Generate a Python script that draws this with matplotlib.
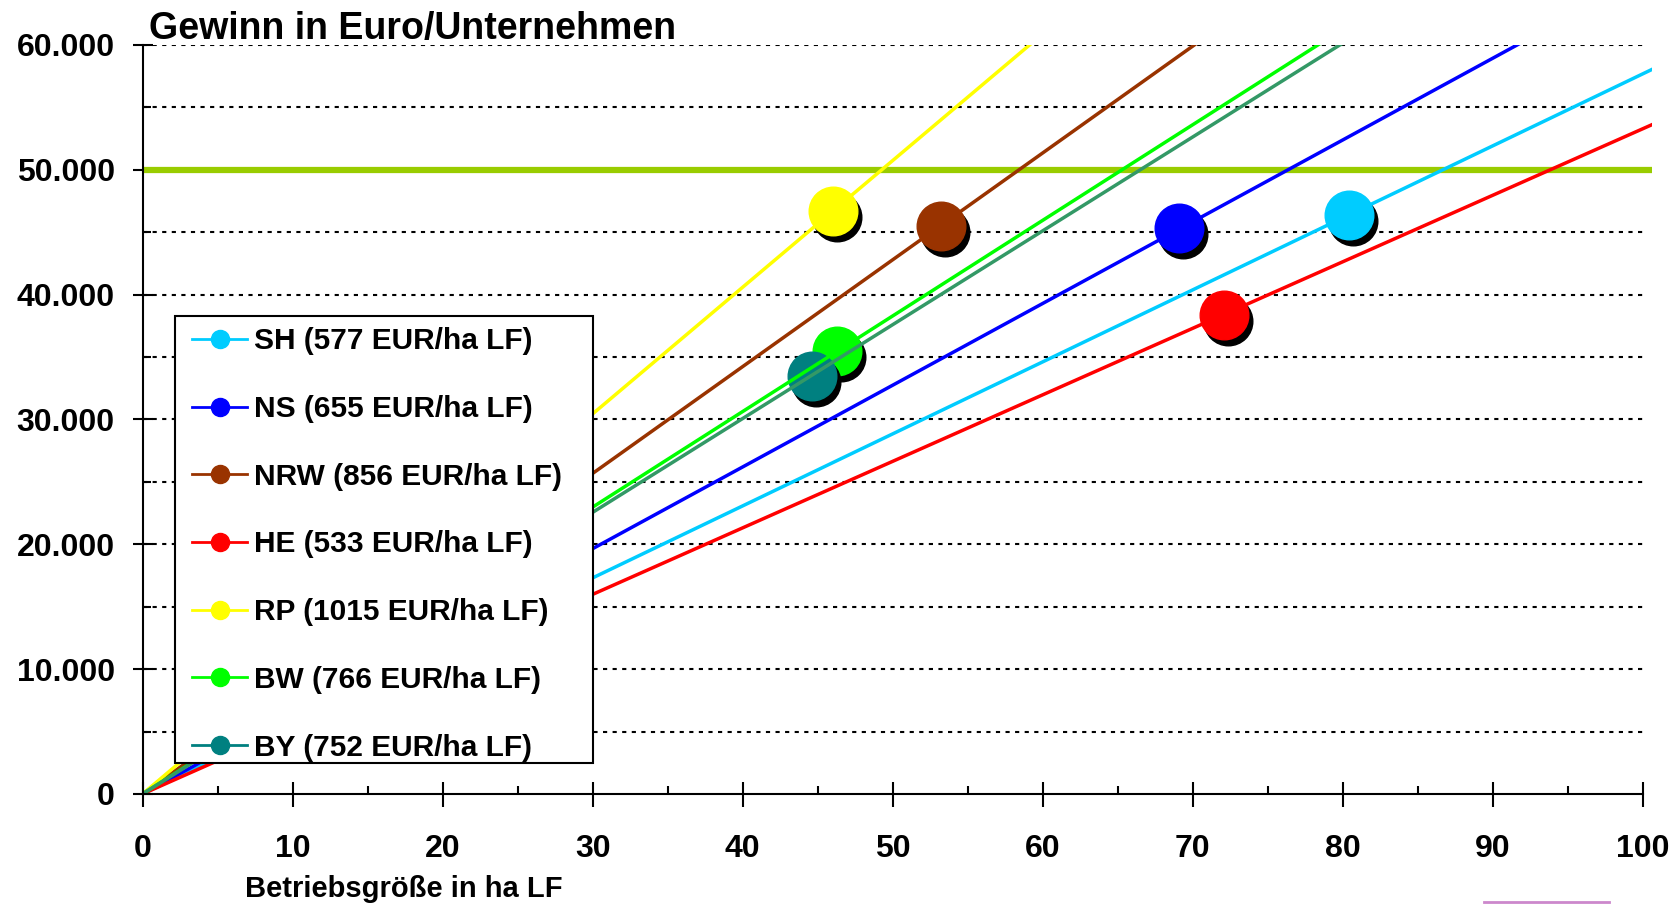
import numpy as np
import matplotlib
matplotlib.use("Agg")
import matplotlib.pyplot as plt
import matplotlib.transforms as mtransforms
from matplotlib.lines import Line2D
from matplotlib.patches import Rectangle
from matplotlib.ticker import FuncFormatter, MultipleLocator

# ----------------------------
# Daten
# ----------------------------
laender = ["SH", "NS", "NRW", "HE", "RP", "BW", "BY"]
eur_je_ha = [577, 655, 856, 533, 1015, 766, 752]          # Gewinn je ha LF (Steigung)
punkt_ha = [80.4, 69.1, 53.2, 72.1, 46.0, 46.3, 44.6]      # Betriebsgröße im Durchschnitt
punkt_gewinn = [46400, 45300, 45500, 38400, 46700, 35500, 33500]
linien_farben = ["#00CCFF", "#0000FF", "#993300", "#FF0000", "#FFFF00", "#00FF00", "#339966"]
punkt_farben = ["#00CCFF", "#0000FF", "#993300", "#FF0000", "#FFFF00", "#00FF00", "#008080"]
ziel_gewinn = 50000
x_bereich = np.array([0, 101])

plt.rcParams["font.family"] = ["Liberation Sans", "DejaVu Sans"]
plt.rcParams["font.weight"] = "bold"

fig = plt.figure(figsize=(16.73, 9.05), dpi=100)
ax = fig.add_axes([0.0852, 0.1227, 0.9023, 0.8276])
ax.set_xlim(0, 100.6)
ax.set_ylim(0, 60000)

# Gitterlinien (gepunktet)
ax.hlines(np.arange(5000, 60001, 5000), 0, 100, colors="black",
          linestyles=(0, (2.0, 2.6)), linewidth=1.5, zorder=1)

# Zielgewinn 50.000 Euro
ax.axhline(ziel_gewinn, color="#99CC00", linewidth=4.5, zorder=2)

# Punkte mit Schatten
schatten = mtransforms.offset_copy(ax.transData, fig=fig, x=4, y=-6, units="dots")
for i in range(len(laender)):
    ax.plot(punkt_ha[i], punkt_gewinn[i], "o", ms=35, color="black",
            mec="black", transform=schatten, zorder=3)
    ax.plot(punkt_ha[i], punkt_gewinn[i], "o", ms=35, color=punkt_farben[i],
            mec=punkt_farben[i], zorder=3)

# Geraden durch den Ursprung
for i in range(len(laender)):
    ax.plot(x_bereich, x_bereich * eur_je_ha[i], color=linien_farben[i],
            linewidth=2.5, zorder=4, solid_capstyle="butt")

# Achsen
for s in ["top", "right"]:
    ax.spines[s].set_visible(False)
ax.spines["bottom"].set_bounds(0, 100)
for s in ["left", "bottom"]:
    ax.spines[s].set_linewidth(1.5)
    ax.spines[s].set_zorder(5)

ax.xaxis.set_major_locator(MultipleLocator(10))
ax.xaxis.set_minor_locator(MultipleLocator(5))
ax.yaxis.set_major_locator(MultipleLocator(10000))
ax.yaxis.set_minor_locator(MultipleLocator(5000))
ax.yaxis.set_major_formatter(FuncFormatter(lambda v, p: f"{int(v):,}".replace(",", ".")))

ax.tick_params(axis="x", which="major", direction="inout", length=18, width=1.5,
               pad=20, labelsize=23)
ax.tick_params(axis="x", which="minor", direction="in", length=6, width=1.5)
ax.tick_params(axis="y", which="major", direction="inout", length=14, width=1.5,
               pad=13, labelsize=23)
ax.tick_params(axis="y", which="minor", direction="in", length=6, width=1.5)

# Legende
ax.add_patch(Rectangle((0.0215, 0.0414), 0.2769, 0.5966, transform=ax.transAxes,
                       facecolor="white", edgecolor="black", linewidth=1.5, zorder=9))
griffe = [Line2D([], [], color=punkt_farben[i], linewidth=2, marker="o", ms=13,
                 mfc=punkt_farben[i], mec=punkt_farben[i]) for i in range(len(laender))]
beschriftungen = [f"{laender[i]} ({eur_je_ha[i]} EUR/ha LF)" for i in range(len(laender))]
leg = ax.legend(griffe, beschriftungen, loc="upper left", bbox_to_anchor=(0.0328, 0.623),
                fontsize=21.5, frameon=False, borderpad=0, borderaxespad=0,
                labelspacing=1.33, handlelength=1.85, handletextpad=0.24, numpoints=1)
leg.set_zorder(10)

# Texte
fig.text(0.089, 0.957, "Gewinn in Euro/Unternehmen", fontsize=27, fontweight="bold",
         ha="left", va="baseline")
fig.text(0.1465, 0.0088, "Betriebsgröße in ha LF", fontsize=21, fontweight="bold",
         ha="left", va="baseline")

# kleine Markierung unten rechts
fig.add_artist(Line2D([0.887, 0.962], [0.003, 0.003], transform=fig.transFigure,
                      color="#CC88CC", linewidth=2))

fig.savefig("out.png", dpi=100)
